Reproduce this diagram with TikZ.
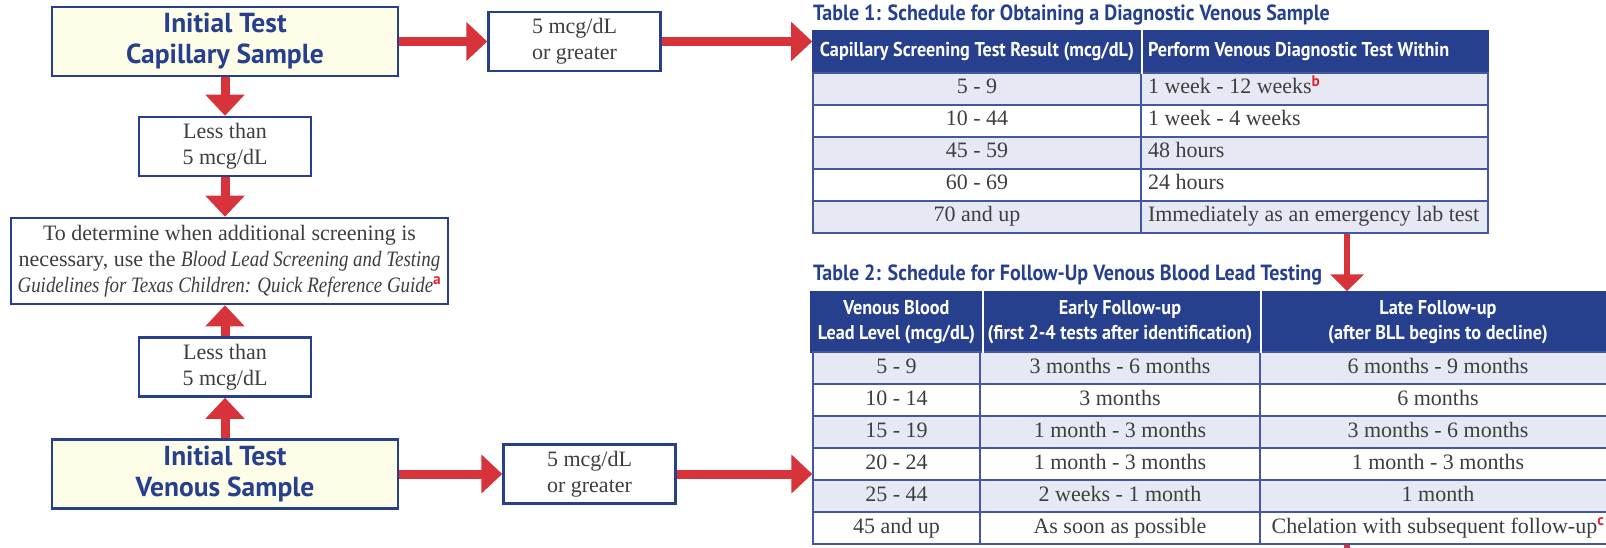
\documentclass[tikz,border=0pt]{standalone}
\usepackage{fontspec}
\setmainfont{Liberation Serif}[ItalicFeatures={FakeStretch=0.86}]
\newfontfamily\boxfont{PT Sans}
\newfontfamily\condfont[FakeStretch=0.91]{PT Sans}
\usetikzlibrary{arrows.meta}

\definecolor{navy}{RGB}{38,64,142}
\definecolor{arrowred}{RGB}{214,52,58}
\definecolor{markred}{RGB}{220,40,50}
\definecolor{paleyellow}{RGB}{254,253,232}
\definecolor{rowA}{RGB}{230,233,244}
\definecolor{cellline}{RGB}{66,88,160}
\definecolor{txtgray}{RGB}{62,62,62}

\newcommand{\redsup}[1]{\textsuperscript{\textcolor{markred}{\boxfont\bfseries #1}}}

\tikzset{
  startbox/.style={draw=navy, line width=2.5pt, fill=paleyellow, text=navy,
    minimum width=346pt, minimum height=69pt, align=center,
    font=\boxfont\bfseries\fontsize{27.5}{31}\selectfont},
  resbox/.style={draw=navy, line width=2.5pt, fill=white, text=txtgray,
    minimum width=172pt, minimum height=59pt, align=center,
    font=\fontsize{22}{26}\selectfont},
  infobox/.style={resbox, minimum width=437pt, minimum height=86pt, inner xsep=4pt},
  thead/.style={draw=navy, line width=1.5pt, fill=navy, text=white,
    inner xsep=7pt, inner ysep=0pt, align=center,
    font=\condfont\bfseries\fontsize{20}{25}\selectfont},
  tcell/.style={draw=cellline, line width=1.5pt, text=txtgray, inner xsep=7pt,
    inner ysep=0pt, minimum height=32pt, text height=15pt, text depth=5pt,
    font=\fontsize{22}{26}\selectfont},
  ttitle/.style={anchor=west, inner sep=0pt, text=navy,
    font=\condfont\bfseries\fontsize{22}{26}\selectfont},
  bigarrow/.style={draw=arrowred, line width=9pt, -{Triangle[width=38pt,length=21pt]}},
  droparrow/.style={draw=arrowred, line width=6pt, -{Triangle[width=33pt,length=17pt]}},
  dropline/.style={draw=arrowred, line width=6pt}
}

\begin{document}
\begin{tikzpicture}[x=1pt,y=-1pt]
    \useasboundingbox (0,0) rectangle (1606,548);
    \clip (0,0) rectangle (1606,548);

    % left flow chart
    \node[startbox] (cap) at (225,41.5) {Initial Test\\Capillary Sample};
    \node[resbox] (ge1) at (574.5,41.5) {5 mcg/dL\\or greater};
    \node[resbox] (lt1) at (225,146.5) {Less than\\5 mcg/dL};
    \node[infobox] (info) at (229.5,261) {To determine when additional screening is\\
        necessary, use the \textit{Blood Lead Screening and Testing}\\
        \textit{Guidelines for Texas Children: Quick Reference Guide}\redsup{a}};
    \node[resbox] (lt2) at (225,367) {Less than\\5 mcg/dL};
    \node[startbox] (ven) at (225,474) {Initial Test\\Venous Sample};
    \node[resbox] (ge2) at (589.5,474) {5 mcg/dL\\or greater};

    % table 1
    \node[ttitle] (ttl1) at (813,15) {Table 1: Schedule for Obtaining a Diagnostic Venous Sample};
    \node[thead, minimum width=328pt, minimum height=42pt] (t1h1) at (977,52) {Capillary Screening Test Result (mcg/dL)};
    \node[thead, text width=333pt, minimum height=42pt, align=flush left] (t1h2) at (1314.5,52) {Perform Venous Diagnostic Test Within};
    \foreach \a/\b/\c [count=\i, evaluate=\i as \yy using 57+32*\i] in
        {{5 - 9}/{1 week - 12 weeks\redsup{b}}/rowA,
         {10 - 44}/{1 week - 4 weeks}/white,
         {45 - 59}/{48 hours}/rowA,
         {60 - 69}/{24 hours}/white,
         {70 and up}/{Immediately as an emergency lab test}/rowA}{
        \node[tcell, fill=\c, minimum width=328pt] (t1a\i) at (977,\yy) {\a};
        \node[tcell, fill=\c, text width=333pt, align=flush left] (t1b\i) at (1314.5,\yy) {\b};
    }
    \draw[white, line width=1.5pt] (t1h1.north east) -- (t1h1.south east);

    % table 2
    \node[ttitle] (ttl2) at (813,275) {Table 2: Schedule for Follow-Up Venous Blood Lead Testing};
    \node[thead, minimum width=167pt, minimum height=60pt] (t2h1) at (896.5,322) {Venous Blood\\Lead Level (mcg/dL)};
    \node[thead, minimum width=280pt, minimum height=60pt] (t2h2) at (1120,322) {Early Follow-up\\(first 2-4 tests after identification)};
    \node[thead, minimum width=356pt, minimum height=60pt] (t2h3) at (1438,322) {Late Follow-up\\(after BLL begins to decline)};
    \foreach \a/\b/\d/\c [count=\i, evaluate=\i as \yy using 336+32*\i] in
        {{5 - 9}/{3 months - 6 months}/{6 months - 9 months}/rowA,
         {10 - 14}/{3 months}/{6 months}/white,
         {15 - 19}/{1 month - 3 months}/{3 months - 6 months}/rowA,
         {20 - 24}/{1 month - 3 months}/{1 month - 3 months}/white,
         {25 - 44}/{2 weeks - 1 month}/{1 month}/rowA,
         {45 and up}/{As soon as possible}/{Chelation with subsequent follow-up\redsup{c}}/white}{
        \node[tcell, fill=\c, minimum width=167pt] (t2a\i) at (896.5,\yy) {\a};
        \node[tcell, fill=\c, minimum width=280pt] (t2b\i) at (1120,\yy) {\b};
        \node[tcell, fill=\c, minimum width=356pt] (t2c\i) at (1438,\yy) {\d};
    }
    \draw[white, line width=1.5pt] (t2h1.north east) -- (t2h1.south east);
    \draw[white, line width=1.5pt] (t2h2.north east) -- (t2h2.south east);

    % arrows
    \coordinate (drop) at (1347,0);
    \draw[bigarrow] (cap) -- (ge1);
    \draw[bigarrow] (ge1) -- (ge1 -| t1h1.west);
    \draw[bigarrow] (cap) -- (lt1);
    \draw[bigarrow] (lt1) -- (lt1 |- info.north);
    \draw[bigarrow] (lt2) -- (lt2 |- info.south);
    \draw[bigarrow] (ven) -- (lt2);
    \draw[bigarrow] (ven) -- (ge2);
    \draw[bigarrow] (ge2) -- (ge2 -| t2a4.west);
    \draw[droparrow] (t1b5.south -| drop) -- (t2h3.north -| drop);
    \draw[dropline] (t2b6.south -| drop) -- ++(0,20);
\end{tikzpicture}
\end{document}
